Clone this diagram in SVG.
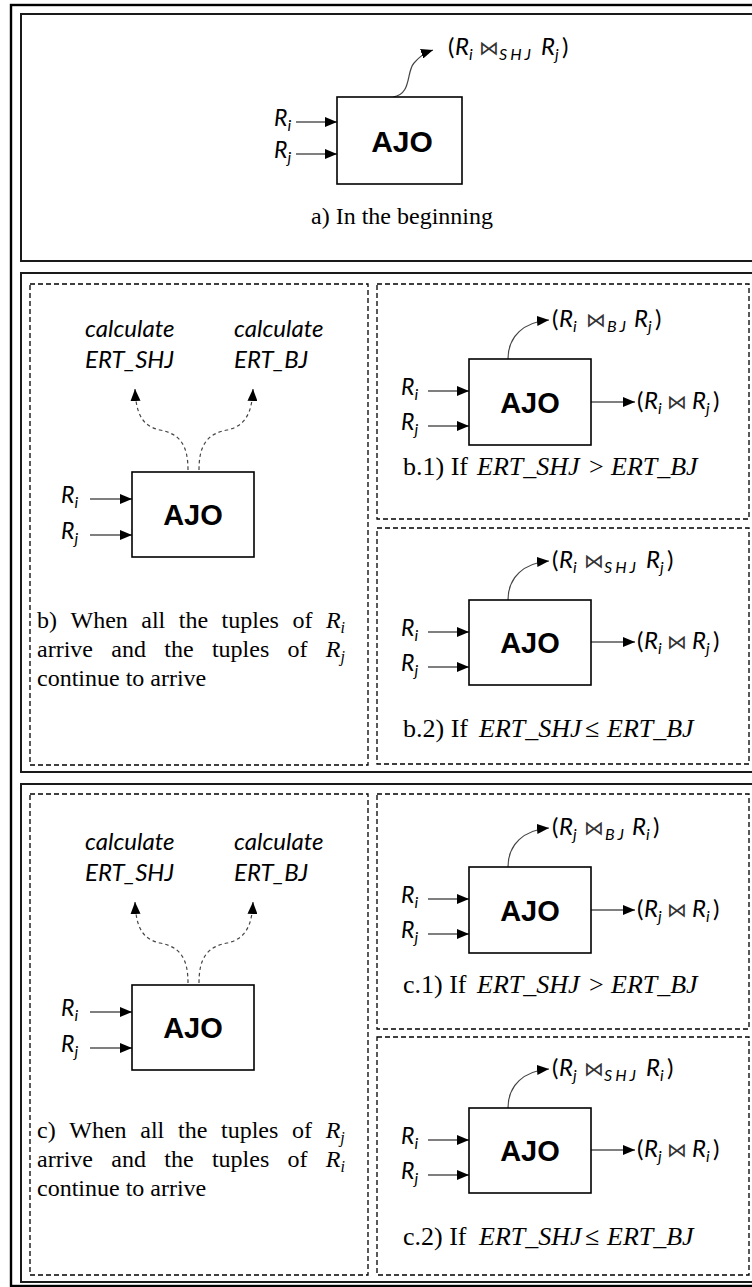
<svg xmlns="http://www.w3.org/2000/svg" width="752" height="1287" viewBox="0 0 752 1287">
<style>
.frame{fill:none;stroke:#000;stroke-width:2.4}
.panel{fill:none;stroke:#1a1a1a;stroke-width:2}
.dash{fill:none;stroke:#000;stroke-width:1.3;stroke-dasharray:5 3}
.box{fill:#fff;stroke:#000;stroke-width:1.6}
.ajo{font-family:"Liberation Sans",Arial,sans-serif;font-weight:bold;font-size:29px;text-anchor:middle}
.in{stroke:#000;stroke-width:1.2;fill:none}
.out{stroke:#444;stroke-width:1.2;fill:none}
.dsh{stroke:#444;stroke-width:1.2;fill:none;stroke-dasharray:3.5 3}
.lbl{font-family:Lato,"Open Sans",sans-serif;font-style:italic;font-size:23px;fill:#000}
.sub{font-size:16px}
.m{font-family:Lato,"Open Sans",sans-serif;font-size:24px;fill:#000}
.it{font-style:italic}
.bt{font-family:"DejaVu Sans",sans-serif;font-size:20px;fill:#333}
.sj{font-family:Lato,sans-serif;font-style:italic;font-size:16px;letter-spacing:3px}
.cap{font-family:"Liberation Serif","Times New Roman",serif;font-size:24px;fill:#000}
.cap2{font-family:"Liberation Serif","Times New Roman",serif;font-size:26px;fill:#000}
.ci{font-style:italic}
.calc{font-family:Lato,"Open Sans",sans-serif;font-style:italic;font-size:24px;fill:#000}
</style>
<defs>
<marker id="ah" markerWidth="12" markerHeight="10" refX="12" refY="5" orient="auto" markerUnits="userSpaceOnUse"><path d="M0,0 L12,5 L0,10 z" fill="#000"/></marker>
</defs>

<g id="frames">
<rect class="frame" x="11" y="5" width="760" height="1281"/>
<rect class="panel" x="21" y="14" width="750" height="247"/>
<rect class="panel" x="21" y="273" width="750" height="499"/>
<rect class="panel" x="21" y="784" width="750" height="498"/>
<rect class="dash" x="30" y="284" width="338" height="481"/>
<rect class="dash" x="377" y="284" width="372" height="235"/>
<rect class="dash" x="377" y="528" width="372" height="236"/>
<rect class="dash" x="30" y="794" width="338" height="481"/>
<rect class="dash" x="377" y="794" width="372" height="235"/>
<rect class="dash" x="377" y="1037" width="372" height="238"/>
</g>

<g id="connectors">
<line class="in" x1="296" y1="122" x2="337" y2="122" marker-end="url(#ah)"/>
<line class="in" x1="296" y1="154" x2="337" y2="154" marker-end="url(#ah)"/>
<path class="out" d="M393,97 C412,94 406,72 414,63 C419,57 424,53 433,50" marker-end="url(#ah)"/>
<line class="in" x1="90" y1="499" x2="132" y2="499" marker-end="url(#ah)"/>
<line class="in" x1="90" y1="535" x2="132" y2="535" marker-end="url(#ah)"/>
<path class="dsh" d="M188,470 C188,445 180,434 160,430 C141,426 136,412 135,389" marker-end="url(#ah)"/>
<path class="dsh" d="M199,470 C199,445 207,434 227,430 C246,426 252,412 253,389" marker-end="url(#ah)"/>
<line class="in" x1="428" y1="391" x2="469" y2="391" marker-end="url(#ah)"/>
<line class="in" x1="428" y1="426" x2="469" y2="426" marker-end="url(#ah)"/>
<line class="in" x1="591" y1="402" x2="635" y2="402" marker-end="url(#ah)"/>
<path class="out" d="M508,359 C508,336 524,322 549,320" marker-end="url(#ah)"/>
<line class="in" x1="428" y1="632" x2="469" y2="632" marker-end="url(#ah)"/>
<line class="in" x1="428" y1="667" x2="469" y2="667" marker-end="url(#ah)"/>
<line class="in" x1="591" y1="642" x2="635" y2="642" marker-end="url(#ah)"/>
<path class="out" d="M508,600 C508,577 524,563 549,561" marker-end="url(#ah)"/>
<line class="in" x1="90" y1="1012" x2="132" y2="1012" marker-end="url(#ah)"/>
<line class="in" x1="90" y1="1048" x2="132" y2="1048" marker-end="url(#ah)"/>
<path class="dsh" d="M188,983 C188,958 180,947 160,943 C141,939 136,925 135,902" marker-end="url(#ah)"/>
<path class="dsh" d="M199,983 C199,958 207,947 227,943 C246,939 252,925 253,902" marker-end="url(#ah)"/>
<line class="in" x1="428" y1="899" x2="469" y2="899" marker-end="url(#ah)"/>
<line class="in" x1="428" y1="934" x2="469" y2="934" marker-end="url(#ah)"/>
<line class="in" x1="591" y1="910" x2="635" y2="910" marker-end="url(#ah)"/>
<path class="out" d="M508,867 C508,844 524,830 549,828" marker-end="url(#ah)"/>
<line class="in" x1="428" y1="1140" x2="469" y2="1140" marker-end="url(#ah)"/>
<line class="in" x1="428" y1="1175" x2="469" y2="1175" marker-end="url(#ah)"/>
<line class="in" x1="591" y1="1150" x2="635" y2="1150" marker-end="url(#ah)"/>
<path class="out" d="M508,1108 C508,1085 524,1071 549,1069" marker-end="url(#ah)"/>
</g>

<g id="node-a">
<rect class="box" x="337" y="97" width="125" height="87"/>
<text class="ajo" x="402" y="152" style="font-size:30px">AJO</text>
<text class="lbl" x="274" y="126">R<tspan class="sub" dy="5">i</tspan></text>
<text class="lbl" x="274" y="158">R<tspan class="sub" dy="5">j</tspan></text>
<text class="m"><tspan x="448" y="55">(</tspan><tspan class="it" x="455" y="55">R</tspan><tspan class="it sub" x="469" y="60">i</tspan><tspan class="bt" x="479" y="55">⋈</tspan><tspan class="sj" x="499" y="60">SHJ</tspan><tspan class="it" x="541" y="55">R</tspan><tspan class="it sub" x="555" y="60">j</tspan><tspan x="562" y="55">)</tspan></text>
<text class="cap" x="402" y="224" text-anchor="middle">a) In the beginning</text>
</g>

<g id="node-b">
<text class="calc" x="85" y="337">calculate</text>
<text class="calc" x="85" y="368">ERT_SHJ</text>
<text class="calc" x="234" y="337">calculate</text>
<text class="calc" x="234" y="368">ERT_BJ</text>
<rect class="box" x="132" y="472" width="122" height="85"/>
<text class="ajo" x="193" y="525">AJO</text>
<text class="lbl" x="61" y="503">R<tspan class="sub" dy="5">i</tspan></text>
<text class="lbl" x="61" y="539">R<tspan class="sub" dy="5">j</tspan></text>
<text class="cap" y="628"><tspan x="37">b)</tspan><tspan x="70.5">When</tspan><tspan x="141.3">all</tspan><tspan x="178.8">the</tspan><tspan x="221.6">tuples</tspan><tspan x="292.4">of</tspan><tspan x="325.9" class="ci">R</tspan><tspan class="ci sub" dy="5">i</tspan></text>
<text class="cap" y="657"><tspan x="37">arrive</tspan><tspan x="111.3">and</tspan><tspan x="164.3">the</tspan><tspan x="211.9">tuples</tspan><tspan x="287.5">of</tspan><tspan x="325.8" class="ci">R</tspan><tspan class="ci sub" dy="5">j</tspan></text>
<text class="cap" x="37" y="686">continue to arrive</text>
</g>

<g id="node-b1">
<rect class="box" x="469" y="359" width="122" height="86"/>
<text class="ajo" x="530" y="413">AJO</text>
<text class="lbl" x="401" y="395">R<tspan class="sub" dy="5">i</tspan></text>
<text class="lbl" x="401" y="430">R<tspan class="sub" dy="5">j</tspan></text>
<text class="m"><tspan x="637" y="409">(</tspan><tspan class="it" x="644" y="409">R</tspan><tspan class="it sub" x="658" y="414">i</tspan><tspan class="bt" x="667" y="409">⋈</tspan><tspan class="it" x="692" y="409">R</tspan><tspan class="it sub" x="706" y="414">j</tspan><tspan x="713" y="409">)</tspan></text>
<text class="m"><tspan x="552" y="327">(</tspan><tspan class="it" x="559" y="327">R</tspan><tspan class="it sub" x="573" y="332">i</tspan><tspan class="bt" x="586" y="327">⋈</tspan><tspan class="sj" x="607" y="332">BJ</tspan><tspan class="it" x="634" y="327">R</tspan><tspan class="it sub" x="648" y="332">j</tspan><tspan x="655" y="327">)</tspan></text>
<text class="cap2" y="475"><tspan x="403">b.1) If</tspan><tspan class="ci" x="477">ERT_SHJ</tspan><tspan x="589">&gt;</tspan><tspan class="ci" x="611">ERT_BJ</tspan></text>
</g>

<g id="node-b2">
<rect class="box" x="469" y="600" width="122" height="85"/>
<text class="ajo" x="530" y="653">AJO</text>
<text class="lbl" x="401" y="636">R<tspan class="sub" dy="5">i</tspan></text>
<text class="lbl" x="401" y="671">R<tspan class="sub" dy="5">j</tspan></text>
<text class="m"><tspan x="637" y="649">(</tspan><tspan class="it" x="644" y="649">R</tspan><tspan class="it sub" x="658" y="654">i</tspan><tspan class="bt" x="667" y="649">⋈</tspan><tspan class="it" x="692" y="649">R</tspan><tspan class="it sub" x="706" y="654">j</tspan><tspan x="713" y="649">)</tspan></text>
<text class="m"><tspan x="552" y="568">(</tspan><tspan class="it" x="559" y="568">R</tspan><tspan class="it sub" x="573" y="573">i</tspan><tspan class="bt" x="584" y="568">⋈</tspan><tspan class="sj" x="604" y="573">SHJ</tspan><tspan class="it" x="646" y="568">R</tspan><tspan class="it sub" x="660" y="573">j</tspan><tspan x="667" y="568">)</tspan></text>
<text class="cap2" y="737"><tspan x="403">b.2) If</tspan><tspan class="ci" x="479">ERT_SHJ</tspan><tspan x="585">≤</tspan><tspan class="ci" x="607">ERT_BJ</tspan></text>
</g>

<g id="node-c">
<text class="calc" x="85" y="850">calculate</text>
<text class="calc" x="85" y="881">ERT_SHJ</text>
<text class="calc" x="234" y="850">calculate</text>
<text class="calc" x="234" y="881">ERT_BJ</text>
<rect class="box" x="132" y="985" width="122" height="85"/>
<text class="ajo" x="193" y="1038">AJO</text>
<text class="lbl" x="61" y="1016">R<tspan class="sub" dy="5">i</tspan></text>
<text class="lbl" x="61" y="1052">R<tspan class="sub" dy="5">j</tspan></text>
<text class="cap" y="1138"><tspan x="37">c)</tspan><tspan x="69.3">When</tspan><tspan x="140.3">all</tspan><tspan x="178">the</tspan><tspan x="221">tuples</tspan><tspan x="292">of</tspan><tspan x="325.7" class="ci">R</tspan><tspan class="ci sub" dy="5">j</tspan></text>
<text class="cap" y="1167"><tspan x="37">arrive</tspan><tspan x="111.3">and</tspan><tspan x="164.3">the</tspan><tspan x="211.9">tuples</tspan><tspan x="287.5">of</tspan><tspan x="325.8" class="ci">R</tspan><tspan class="ci sub" dy="5">i</tspan></text>
<text class="cap" x="37" y="1196">continue to arrive</text>
</g>

<g id="node-c1">
<rect class="box" x="469" y="867" width="122" height="86"/>
<text class="ajo" x="530" y="921">AJO</text>
<text class="lbl" x="401" y="903">R<tspan class="sub" dy="5">i</tspan></text>
<text class="lbl" x="401" y="938">R<tspan class="sub" dy="5">j</tspan></text>
<text class="m"><tspan x="637" y="917">(</tspan><tspan class="it" x="644" y="917">R</tspan><tspan class="it sub" x="658" y="922">j</tspan><tspan class="bt" x="667" y="917">⋈</tspan><tspan class="it" x="692" y="917">R</tspan><tspan class="it sub" x="706" y="922">i</tspan><tspan x="713" y="917">)</tspan></text>
<text class="m"><tspan x="552" y="835">(</tspan><tspan class="it" x="559" y="835">R</tspan><tspan class="it sub" x="573" y="840">j</tspan><tspan class="bt" x="584" y="835">⋈</tspan><tspan class="sj" x="605" y="840">BJ</tspan><tspan class="it" x="632" y="835">R</tspan><tspan class="it sub" x="646" y="840">i</tspan><tspan x="653" y="835">)</tspan></text>
<text class="cap2" y="993"><tspan x="403">c.1) If</tspan><tspan class="ci" x="477">ERT_SHJ</tspan><tspan x="589">&gt;</tspan><tspan class="ci" x="611">ERT_BJ</tspan></text>
</g>

<g id="node-c2">
<rect class="box" x="469" y="1108" width="122" height="85"/>
<text class="ajo" x="530" y="1161">AJO</text>
<text class="lbl" x="401" y="1144">R<tspan class="sub" dy="5">i</tspan></text>
<text class="lbl" x="401" y="1179">R<tspan class="sub" dy="5">j</tspan></text>
<text class="m"><tspan x="637" y="1157">(</tspan><tspan class="it" x="644" y="1157">R</tspan><tspan class="it sub" x="658" y="1162">j</tspan><tspan class="bt" x="667" y="1157">⋈</tspan><tspan class="it" x="692" y="1157">R</tspan><tspan class="it sub" x="706" y="1162">i</tspan><tspan x="713" y="1157">)</tspan></text>
<text class="m"><tspan x="552" y="1076">(</tspan><tspan class="it" x="559" y="1076">R</tspan><tspan class="it sub" x="573" y="1081">j</tspan><tspan class="bt" x="584" y="1076">⋈</tspan><tspan class="sj" x="604" y="1081">SHJ</tspan><tspan class="it" x="646" y="1076">R</tspan><tspan class="it sub" x="660" y="1081">i</tspan><tspan x="667" y="1076">)</tspan></text>
<text class="cap2" y="1245"><tspan x="403">c.2) If</tspan><tspan class="ci" x="479">ERT_SHJ</tspan><tspan x="585">≤</tspan><tspan class="ci" x="607">ERT_BJ</tspan></text>
</g>
</svg>
